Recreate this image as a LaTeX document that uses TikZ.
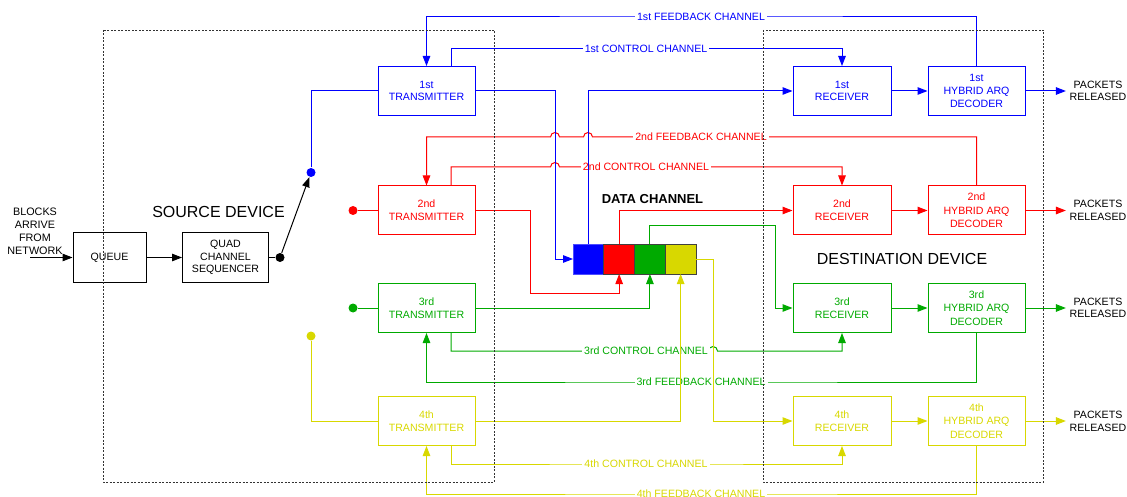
\documentclass[tikz,border=0pt]{standalone}
\usepackage{fontspec}
\setmainfont{Liberation Sans}
\usetikzlibrary{positioning,arrows.meta}
\definecolor{chBlue}{RGB}{0,0,255}
\definecolor{chRed}{RGB}{255,0,0}
\definecolor{chGreen}{RGB}{0,170,0}
\definecolor{chYellow}{RGB}{216,216,0}
\tikzstyle{diagram} = [x = 1pt, y = -1pt, line width = 1pt, >={Triangle[length=10pt, width=7.5pt]}, font = \fontsize{10.6}{12.7}\selectfont]
\tikzstyle{blockStyle} = [draw, rectangle, minimum height = 49pt, align = center, inner sep = 0pt]
\tikzstyle{transmitterStyle} = [blockStyle, minimum width = 97pt]
\tikzstyle{receiverStyle} = [blockStyle, minimum width = 98pt]
\tikzstyle{decoderStyle} = [blockStyle, minimum width = 97pt, font = \fontsize{10.6}{13.3}\selectfont]
\tikzstyle{channelLabel} = [fill = white, inner xsep = 2pt, inner ysep = 1pt]
\tikzstyle{switchDot} = [circle, fill, inner sep = 0pt, minimum size = 9pt]
\tikzstyle{dataCell} = [draw = black!75, minimum width = 30.75pt, minimum height = 30pt, inner sep = 0pt, outer sep = 0pt]
\tikzstyle{deviceBox} = [draw = black!80, line width = .8pt, dash pattern = on 2pt off 1.5pt]
\tikzstyle{lineHop} = [insert path = {arc[start angle = 180, end angle = 360, radius = 4.5]}]

\begin{document}
\begin{tikzpicture}[diagram]
  \useasboundingbox (0,0) rectangle (1127,497);

  % source side
  \node [align = center, font = \fontsize{10.8}{13}\selectfont] (network) at (35,231.5) {BLOCKS\\ARRIVE\\FROM\\NETWORK};
  \coordinate (networkIn) at (30,257.5);
  \node [blockStyle, minimum width = 73pt] (queue) at (109.5,257.5) {QUEUE};
  \node [blockStyle, minimum width = 86pt] (sequencer) at (225.5,257.5) {QUAD\\CHANNEL\\SEQUENCER};
  \node [font = \fontsize{16}{19}\selectfont] (sourceTitle) at (218.5,212) {SOURCE DEVICE};
  \draw [->] (networkIn) -- (queue);
  \draw [->] (queue) -- (sequencer);
  \node [switchDot] (switchPole) at (280,257.5) {};
  \draw (sequencer) -- (switchPole);
  \node [switchDot, chBlue] (dot1) at (311,172.5) {};
  \node [switchDot, chRed] (dot2) at (353,210.5) {};
  \node [switchDot, chGreen] (dot3) at (353,308) {};
  \node [switchDot, chYellow] (dot4) at (311,336) {};
  \draw [->] (switchPole) -- (dot1);

  % the four channels
  \foreach \row/\rowY/\rowColor/\ordinal in {1/91/chBlue/1st, 2/210.5/chRed/2nd, 3/308/chGreen/3rd, 4/421/chYellow/4th} {
    \node [transmitterStyle, \rowColor] (tx\row) at (426.5,\rowY) {\ordinal\\TRANSMITTER};
    \node [receiverStyle, \rowColor] (rx\row) at (842,\rowY) {\ordinal\\RECEIVER};
    \node [decoderStyle, \rowColor] (dec\row) at (976.5,\rowY) {\ordinal\\HYBRID ARQ\\DECODER};
    \node [align = center] (pk\row) at (1098,\rowY) {PACKETS\\RELEASED};
    \draw [->, \rowColor] (rx\row) -- (dec\row);
    \draw [->, \rowColor] (dec\row) -- (pk\row);
  }
  \draw [chBlue] (dot1) |- (tx1.west);
  \draw [chRed] (dot2) -- (tx2.west);
  \draw [chGreen] (dot3) -- (tx3.west);
  \draw [chYellow] (dot4) |- (tx4.west);

  % feedback and control channels
  \draw [->, chBlue] (dec1.north) |- (701,17) node [channelLabel] (fbText1) {1st FEEDBACK CHANNEL} -| (tx1.north);
  \draw [->, chBlue] ([xshift = 24.5pt] tx1.north) |- (646,48.5) node [channelLabel] (ctText1) {1st CONTROL CHANNEL} -| (rx1.north);
  \draw [<-, chRed] (tx2.north) |- (550.5,137) [lineHop] -- (583.5,137) [lineHop] -- (701,137) node [channelLabel] (fbText2) {2nd FEEDBACK CHANNEL} -| (dec2.north);
  \draw [->, chRed] ([xshift = 24.5pt] tx2.north) |- (550.5,167) [lineHop] -- (646,167) node [channelLabel] (ctText2) {2nd CONTROL CHANNEL} -| (rx2.north);
  \draw [->, chGreen] ([xshift = 24.5pt] tx3.south) |- (646,351) node [channelLabel] (ctText3) {3rd CONTROL CHANNEL} -- (708.5,351) [lineHop] -| (rx3.south);
  \draw [<-, chGreen] (tx3.south) |- (701,382) node [channelLabel] (fbText3) {3rd FEEDBACK CHANNEL} -| (dec3.south);
  \draw [->, chYellow] ([xshift = 24.5pt] tx4.south) |- (646,464) node [channelLabel] (ctText4) {4th CONTROL CHANNEL} -| (rx4.south);
  \draw [<-, chYellow] (tx4.south) |- (701,494) node [channelLabel] (fbText4) {4th FEEDBACK CHANNEL} -| (dec4.south);

  % data channel
  \node [font = \bfseries\fontsize{13}{15}\selectfont] (dataTitle) at (652.5,199) {DATA CHANNEL};
  \node [dataCell, fill = chBlue, draw = chBlue!70] (cellB) at (588.4,259) {};
  \node [dataCell, fill = chRed, right = 0pt of cellB] (cellR) {};
  \node [dataCell, fill = chGreen, right = 0pt of cellR] (cellG) {};
  \node [dataCell, fill = chYellow, right = 0pt of cellG] (cellY) {};
  \draw [->, chBlue] (tx1.east) -| (555,259) -- (cellB.west);
  \draw [->, chBlue] (cellB.north) |- (rx1.west);
  \draw [->, chRed] (tx2.east) -| (530,293) -| (cellR.south);
  \draw [->, chRed] (cellR.north) |- (rx2.west);
  \draw [->, chGreen] (tx3.east) -| (cellG.south);
  \draw [->, chGreen] (cellG.north) |- (775,226) |- (rx3.west);
  \draw [->, chYellow] (tx4.east) -| (cellY.south);
  \draw [->, chYellow] (cellY.east) -| (713,421) -- (rx4.west);

  % devices
  \node [font = \fontsize{16}{19}\selectfont] (destTitle) at (902,258.5) {DESTINATION DEVICE};
  \draw [deviceBox] (103,30) rectangle (494,482);
  \draw [deviceBox] (763,30) rectangle (1043,482);
\end{tikzpicture}
\end{document}
